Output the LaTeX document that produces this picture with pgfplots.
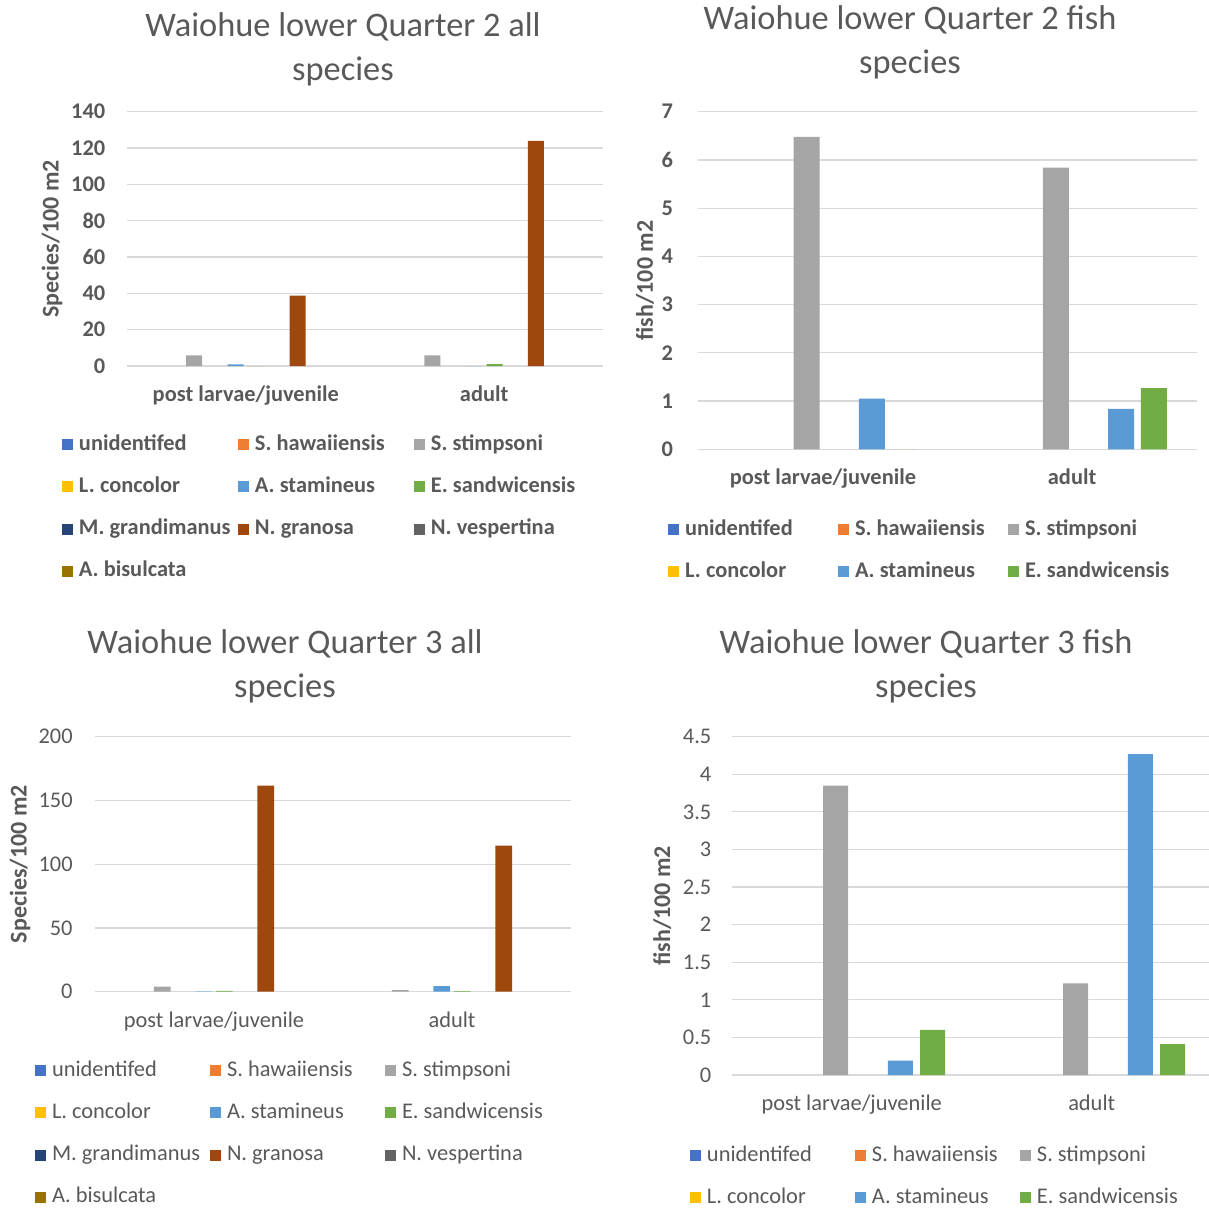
\documentclass[border=0pt]{standalone}
\usepackage{pgfplots}
\pgfplotsset{compat=1.18}
\usepackage{fontspec}
\setmainfont{Carlito}
\definecolor{txt}{HTML}{595959}
\definecolor{grd}{HTML}{D9D9D9}
\definecolor{c1}{HTML}{4472C4}
\definecolor{c2}{HTML}{ED7D31}
\definecolor{c3}{HTML}{A5A5A5}
\definecolor{c4}{HTML}{FFC000}
\definecolor{c5}{HTML}{5B9BD5}
\definecolor{c6}{HTML}{70AD47}
\definecolor{c7}{HTML}{264478}
\definecolor{c8}{HTML}{9E480E}
\definecolor{c9}{HTML}{636363}
\definecolor{c10}{HTML}{997300}
\pgfplotsset{
  sq/.style={legend image code/.code={\fill[#1] (0pt,-2.75pt) rectangle (5.5pt,2.75pt);}},
  base/.style={
    scale only axis, ybar, xmin=-0.5, xmax=1.5, ymin=0,
    xtick={0,1}, xticklabels={post larvae/juvenile,adult},
    axis line style={draw=none}, major tick length=0pt,
    ymajorgrids, grid style={draw=grd, line width=0.6pt},
    /pgf/number format/assume math mode=true,
    xticklabel style={anchor=base, yshift=-17.8pt, inner sep=0pt},
    yticklabel style={anchor=east, inner sep=0pt},
    legend columns=3, legend cell align=left,
    legend style={draw=none, fill=none, inner sep=0pt, outer sep=0pt, anchor=north west,
      row sep=10.65pt, text=txt,
      nodes={inner sep=0pt, text height=8pt, text depth=2.5pt},
      /tikz/every odd column/.append style={column sep=3pt}},
    ylabel style={anchor=center, text=txt},
    every axis plot/.append style={draw=none},
  },
}
\newcommand{\bfs}{\bfseries\fontsize{11.2}{13}\selectfont}
\newcommand{\lbs}{\bfseries\fontsize{12}{14}\selectfont}
\newcommand{\rgs}{\fontsize{11.2}{13}\selectfont}
\begin{document}
\begin{tikzpicture}
\path[use as bounding box] (0,0) rectangle (604.5pt,603.5pt);
% ---------------- Panel 1: Quarter 2 all species
\begin{axis}[base, at={(63.35pt,420.5pt)}, anchor=south west, width=238.3pt, height=127.15pt,
  ymax=140, ytick={0,20,...,140}, bar width=8pt,
  tick label style={font=\bfs, text=txt},
  yticklabel style={xshift=-10.5pt},
  ylabel={Species/100 m2}, ylabel style={at={(axis description cs:-0.1567,0.5)}, font=\lbs},
  legend style={at={(axis description cs:-0.1358,-0.2674)}, font=\bfs}]
\addplot[fill=none, sq=c1, bar shift=-46.575pt] coordinates {(0,0) (1,0)};
\addlegendentry{\makebox[79.5pt][l]{unidentifed}}
\addplot[fill=none, sq=c2, bar shift=-36.225pt] coordinates {(0,0) (1,0)};
\addlegendentry{\makebox[79.5pt][l]{S. hawaiiensis}}
\addplot[fill=c3, sq=c3, bar shift=-25.875pt] coordinates {(0,5.9) (1,5.8)};
\addlegendentry{\makebox[79.5pt][l]{S. stimpsoni}}
\addplot[fill=none, sq=c4, bar shift=-15.525pt] coordinates {(0,0) (1,0)};
\addlegendentry{\makebox[79.5pt][l]{L. concolor}}
\addplot[fill=c5, sq=c5, bar shift=-5.175pt] coordinates {(0,0.9) (1,0)};
\addlegendentry{\makebox[79.5pt][l]{A. stamineus}}
\addplot[fill=c6, sq=c6, bar shift=5.175pt] coordinates {(0,0) (1,1.0)};
\addlegendentry{\makebox[79.5pt][l]{E. sandwicensis}}
\addplot[fill=none, sq=c7, bar shift=15.525pt] coordinates {(0,0) (1,0)};
\addlegendentry{\makebox[79.5pt][l]{M. grandimanus}}
\addplot[fill=c8, sq=c8, bar shift=25.875pt] coordinates {(0,38.7) (1,124.0)};
\addlegendentry{\makebox[79.5pt][l]{N. granosa}}
\addplot[fill=none, sq=c9, bar shift=36.225pt] coordinates {(0,0) (1,0)};
\addlegendentry{\makebox[79.5pt][l]{N. vespertina}}
\addplot[fill=none, sq=c10, bar shift=46.575pt] coordinates {(0,0) (1,0)};
\addlegendentry{\makebox[79.5pt][l]{A. bisulcata}}
\end{axis}
% ---------------- Panel 2: Quarter 2 fish species
\begin{axis}[base, at={(349.15pt,378.85pt)}, anchor=south west, width=249.2pt, height=168.8pt,
  ymax=7, ytick={0,1,...,7}, bar width=13pt,
  tick label style={font=\bfs, text=txt},
  yticklabel style={xshift=-12.5pt},
  ylabel={fish/100 m2}, ylabel style={at={(axis description cs:-0.107,0.5)}, font=\lbs},
  legend style={at={(axis description cs:-0.0608,-0.2065)}, font=\bfs}]
\addplot[fill=none, sq=c1, bar shift=-40.875pt] coordinates {(0,0) (1,0)};
\addlegendentry{\makebox[76.5pt][l]{unidentifed}}
\addplot[fill=none, sq=c2, bar shift=-24.525pt] coordinates {(0,0) (1,0)};
\addlegendentry{\makebox[76.5pt][l]{S. hawaiiensis}}
\addplot[fill=c3, sq=c3, bar shift=-8.175pt] coordinates {(0,6.48) (1,5.84)};
\addlegendentry{\makebox[76.5pt][l]{S. stimpsoni}}
\addplot[fill=none, sq=c4, bar shift=8.175pt] coordinates {(0,0) (1,0)};
\addlegendentry{\makebox[76.5pt][l]{L. concolor}}
\addplot[fill=c5, sq=c5, bar shift=24.525pt] coordinates {(0,1.05) (1,0.84)};
\addlegendentry{\makebox[76.5pt][l]{A. stamineus}}
\addplot[fill=c6, sq=c6, bar shift=40.875pt] coordinates {(0,0) (1,1.27)};
\addlegendentry{\makebox[76.5pt][l]{E. sandwicensis}}
\end{axis}
% ---------------- Panel 3: Quarter 3 all species
\begin{axis}[base, at={(47.5pt,107.65pt)}, anchor=south west, width=238pt, height=127.5pt,
  ymax=200, ytick={0,50,...,200}, bar width=8.3pt,
  tick label style={font=\rgs, text=txt},
  yticklabel style={xshift=-11pt},
  ylabel={Species/100 m2}, ylabel style={at={(axis description cs:-0.1576,0.5)}, font=\lbs},
  legend style={at={(axis description cs:-0.126,-0.2678)}, font=\rgs}]
\addplot[fill=none, sq=c1, bar shift=-46.575pt] coordinates {(0,0) (1,0)};
\addlegendentry{\makebox[79pt][l]{unidentifed}}
\addplot[fill=none, sq=c2, bar shift=-36.225pt] coordinates {(0,0) (1,0)};
\addlegendentry{\makebox[79pt][l]{S. hawaiiensis}}
\addplot[fill=c3, sq=c3, bar shift=-25.875pt] coordinates {(0,3.9) (1,1.2)};
\addlegendentry{\makebox[79pt][l]{S. stimpsoni}}
\addplot[fill=none, sq=c4, bar shift=-15.525pt] coordinates {(0,0) (1,0)};
\addlegendentry{\makebox[79pt][l]{L. concolor}}
\addplot[fill=c5, sq=c5, bar shift=-5.175pt] coordinates {(0,0.2) (1,4.3)};
\addlegendentry{\makebox[79pt][l]{A. stamineus}}
\addplot[fill=c6, sq=c6, bar shift=5.175pt] coordinates {(0,0.6) (1,0.4)};
\addlegendentry{\makebox[79pt][l]{E. sandwicensis}}
\addplot[fill=none, sq=c7, bar shift=15.525pt] coordinates {(0,0) (1,0)};
\addlegendentry{\makebox[79pt][l]{M. grandimanus}}
\addplot[fill=c8, sq=c8, bar shift=25.875pt] coordinates {(0,161.6) (1,114.5)};
\addlegendentry{\makebox[79pt][l]{N. granosa}}
\addplot[fill=none, sq=c9, bar shift=36.225pt] coordinates {(0,0) (1,0)};
\addlegendentry{\makebox[79pt][l]{N. vespertina}}
\addplot[fill=none, sq=c10, bar shift=46.575pt] coordinates {(0,0) (1,0)};
\addlegendentry{\makebox[79pt][l]{A. bisulcata}}
\end{axis}
% ---------------- Panel 4: Quarter 3 fish species
\begin{axis}[base, at={(365.85pt,66pt)}, anchor=south west, width=240pt, height=169.15pt,
  ymax=4.5, ytick={0,0.5,...,4.5}, bar width=12.5pt,
  tick label style={font=\rgs, text=txt},
  yticklabel style={xshift=-10pt},
  ylabel={fish/100 m2}, ylabel style={at={(axis description cs:-0.145,0.5)}, font=\lbs},
  legend style={at={(axis description cs:-0.0869,-0.2069)}, font=\rgs}]
\addplot[fill=none, sq=c1, bar shift=-40.5pt] coordinates {(0,0) (1,0)};
\addlegendentry{\makebox[74pt][l]{unidentifed}}
\addplot[fill=none, sq=c2, bar shift=-24.3pt] coordinates {(0,0) (1,0)};
\addlegendentry{\makebox[74pt][l]{S. hawaiiensis}}
\addplot[fill=c3, sq=c3, bar shift=-8.1pt] coordinates {(0,3.85) (1,1.22)};
\addlegendentry{\makebox[74pt][l]{S. stimpsoni}}
\addplot[fill=none, sq=c4, bar shift=8.1pt] coordinates {(0,0) (1,0)};
\addlegendentry{\makebox[74pt][l]{L. concolor}}
\addplot[fill=c5, sq=c5, bar shift=24.3pt] coordinates {(0,0.19) (1,4.27)};
\addlegendentry{\makebox[74pt][l]{A. stamineus}}
\addplot[fill=c6, sq=c6, bar shift=40.5pt] coordinates {(0,0.60) (1,0.41)};
\addlegendentry{\makebox[74pt][l]{E. sandwicensis}}
\end{axis}
% ---------------- Titles
\node[font=\fontsize{17.2}{22}\selectfont, text=txt, align=center] at (171.5pt,579pt) {Waiohue lower Quarter 2 all\\species};
\node[font=\fontsize{17.2}{22}\selectfont, text=txt, align=center] at (455pt,582.5pt) {Waiohue lower Quarter 2 fish\\species};
\node[font=\fontsize{17.2}{22}\selectfont, text=txt, align=center] at (142.5pt,270.5pt) {Waiohue lower Quarter 3 all\\species};
\node[font=\fontsize{17.2}{22}\selectfont, text=txt, align=center] at (463pt,270.5pt) {Waiohue lower Quarter 3 fish\\species};
\end{tikzpicture}
\end{document}
